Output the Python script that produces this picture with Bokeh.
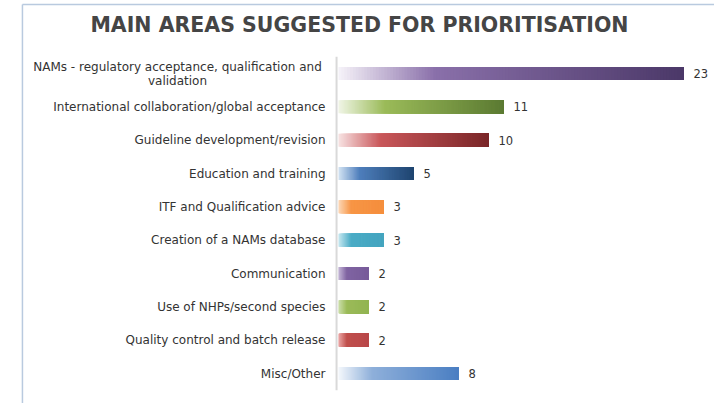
from bokeh.plotting import figure
from bokeh.models import Range1d, ColumnDataSource
from bokeh.embed import file_html
from bokeh.resources import INLINE
from bokeh.core.properties import value

# ---------------- data ----------------
title_text = "MAIN AREAS SUGGESTED FOR PRIORITISATION"
categories = [
    "NAMs - regulatory acceptance, qualification and\nvalidation",
    "International collaboration/global acceptance",
    "Guideline development/revision",
    "Education and training",
    "ITF and Qualification advice",
    "Creation of a NAMs database",
    "Communication",
    "Use of NHPs/second species",
    "Quality control and batch release",
    "Misc/Other",
]
counts = [23, 11, 10, 5, 3, 3, 2, 2, 2, 8]

# gradient colours per bar (start, mid, end)
start_colors = ["#f6f3f9", "#f0f5e6", "#f7e2e2", "#d3e3f3", "#fcd8b8", "#c8e8f0",
                "#c4b6d6", "#cddfac", "#eba8a7", "#f4f7fc"]
mid_colors = ["#8a70aa", "#9bbb59", "#c9575a", "#4f7fbc", "#f79646", "#4bacc6",
              "#8064a2", "#9bbb59", "#c0504d", "#8fb0da"]
end_colors = ["#4b3868", "#5b7a32", "#7a2628", "#1f4570", "#f58f3e", "#45a5bf",
              "#785c9a", "#92b452", "#b9484a", "#4a7ec2"]


def hex2rgb(h):
    h = h.lstrip("#")
    return tuple(int(h[k:k + 2], 16) for k in (0, 2, 4))


def mix(a, b, t):
    ra, rb = hex2rgb(a), hex2rgb(b)
    return "#%02x%02x%02x" % tuple(int(round(ra[k] + (rb[k] - ra[k]) * t)) for k in range(3))


def grad(i, t):
    stop = 0.28
    if t < stop:
        return mix(start_colors[i], mid_colors[i], t / stop)
    return mix(mid_colors[i], end_colors[i], (t - stop) / (1 - stop))


n = len(categories)
ypos = [-i for i in range(n)]

K = 120
ys, lefts, rights, cols = [], [], [], []
for i, v in enumerate(counts):
    for j in range(K):
        ys.append(ypos[i])
        lefts.append(v * j / K)
        rights.append(v)
        cols.append(grad(i, (j + 0.5) / K))
bars = ColumnDataSource(dict(y=ys, left=lefts, right=rights, color=cols))

p = figure(width=714, height=403, output_backend="svg", toolbar_location=None,
           x_range=Range1d(-22.533, 25.067), y_range=Range1d(-9.9, 2.19),
           min_border=0, x_axis_location=None, y_axis_location=None)
p.grid.visible = False
p.outline_line_color = None
p.background_fill_color = "white"
p.border_fill_color = "white"

# panel border (left + top)
p.segment(x0=[-21.07, -21.07], y0=[-20, 2.07], x1=[-21.07, 40], y1=[2.07, 2.07],
          line_color="#b9cadf", line_width=1.5)

# title
p.text(x=[1.4], y=[1.455], text=[title_text], text_align="center", text_baseline="middle",
       text_font=value("DejaVu Sans"), text_font_style="bold", text_font_size="20.5px",
       text_color="#454545")

# bars
p.hbar(y="y", left="left", right="right", height=0.39, fill_color="color",
       line_color=None, source=bars)

# axis line
p.segment(x0=[-0.13], x1=[-0.13], y0=[0.5], y1=[ypos[-1] - 0.5], line_color="#d9d9d9",
          line_width=2)

# category labels
single = [(c, y) for c, y in zip(categories, ypos) if "\n" not in c]
multi = [(c, y) for c, y in zip(categories, ypos) if "\n" in c]
p.text(x=[0] * len(single), y=[y for _, y in single], text=[c for c, _ in single],
       x_offset=-13, text_align="right", text_baseline="middle",
       text_font=value("DejaVu Sans"), text_font_size="12px", text_color="#333333")
p.text(x=[0] * len(multi), y=[y for _, y in multi], text=[c for c, _ in multi],
       x_offset=-161, text_align="center", text_baseline="middle", text_line_height=1.0,
       text_font=value("DejaVu Sans"), text_font_size="12px", text_color="#333333")

# value labels
p.text(x=counts, y=ypos, text=[str(c) for c in counts], x_offset=10,
       text_align="left", text_baseline="middle",
       text_font=value("DejaVu Sans"), text_font_size="11.5px", text_color="#333333")

open("out.html", "w").write(file_html(p, INLINE))
